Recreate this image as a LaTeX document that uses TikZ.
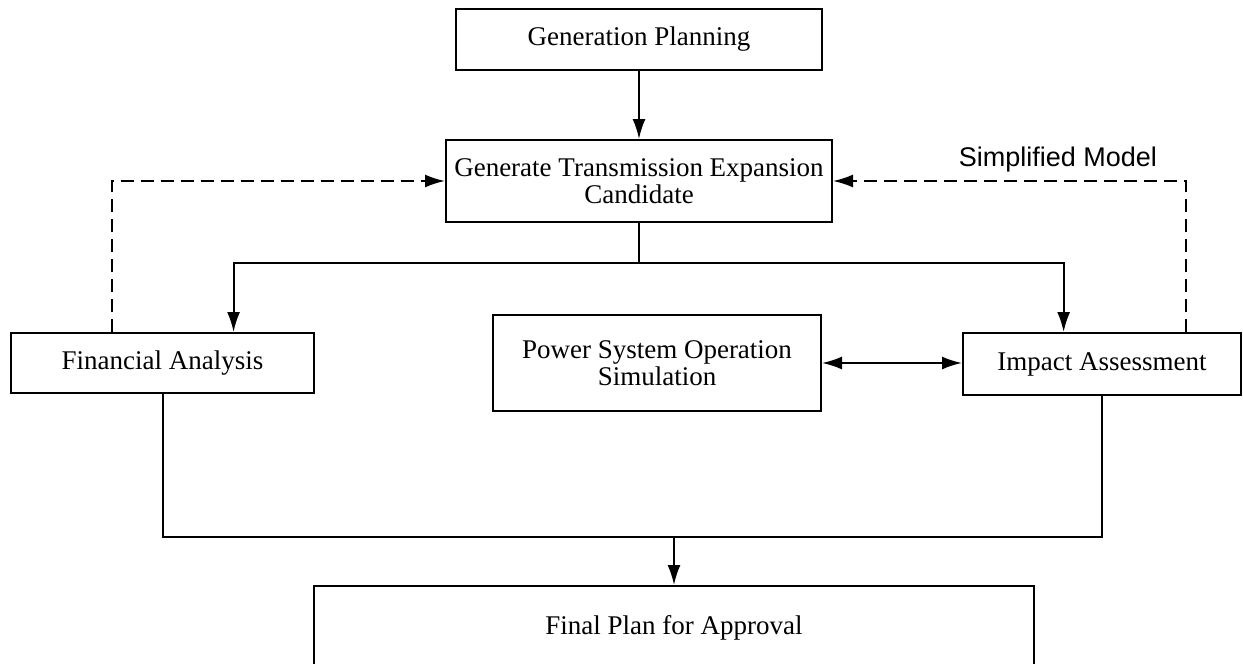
\documentclass[tikz,border=0pt]{standalone}
\usepackage{fontspec}
\setmainfont{Liberation Serif}
\newfontfamily\labelfont{Liberation Sans}
\usetikzlibrary{arrows.meta,calc}
\tikzset{
	block/.style={draw, line width=2pt, align=center, inner sep=0pt, font=\fontsize{27}{27}\selectfont},
	flow/.style={line width=2pt, -{Latex[length=20pt,width=13pt]}},
	twoway/.style={line width=2pt, {Latex[length=20pt,width=13pt]}-{Latex[length=20pt,width=13pt]}},
	feedback/.style={flow, dash pattern=on 13pt off 7pt},
	wire/.style={line width=2pt},
}

\begin{document}
\begin{tikzpicture}[x=1pt, y=-1pt]
			%%%%% START %%%%%
			
			\useasboundingbox (0, 0) rectangle (1243, 664);
			\clip (0, 0) rectangle (1243, 664);
			
			\node[block, minimum width=366pt, minimum height=61pt] (plan) at (639, 39.5) {Generation Planning};
			\node[block, minimum width=386pt, minimum height=82pt] (cand) at (639, 181) {Generate Transmission Expansion\\Candidate};
			
			\node[block, minimum width=303pt, minimum height=60pt] (fin) at (162.5, 363) {Financial Analysis};
			\node[block, minimum width=328pt, minimum height=96pt] (sim) at (657, 363) {Power System Operation\\Simulation};
			\node[block, minimum width=278pt, minimum height=62pt] (imp) at (1102, 364) {Impact Assessment};
			
			\node[block, minimum width=720pt, minimum height=84pt] (final) at (674, 628) {Final Plan for Approval};
			
			\node[font=\labelfont\fontsize{27}{27}\selectfont] (simple) at (1058, 160) {Simplified Model};
			
			% top flow
			\draw[flow] (plan) -- (cand);
			
			% split to the two checks
			\coordinate (split) at ($(cand.south)+(0, 40)$);
			\draw[wire] (cand.south) -- (split);
			\draw[flow] (split) -| ($(fin.north west)!0.733!(fin.north east)$);
			\draw[flow] (split) -| ($(imp.north west)!0.363!(imp.north east)$);
			
			% feedback loops
			\draw[feedback] ($(fin.north west)!0.333!(fin.north east)$) |- (cand.west);
			\draw[feedback] ($(imp.north west)!0.8!(imp.north east)$) |- (cand.east);
			
			\draw[twoway] (sim.east) -- (imp.west |- sim.east);
			
			% merge to final plan
			\coordinate (merge) at (final.north |- 0, 537);
			\draw[wire] (fin.south) |- (imp.south |- merge) -- (imp.south);
			\draw[flow] (merge) -- (final.north);
			
			%%%%% END %%%%%
\end{tikzpicture}
\end{document}
